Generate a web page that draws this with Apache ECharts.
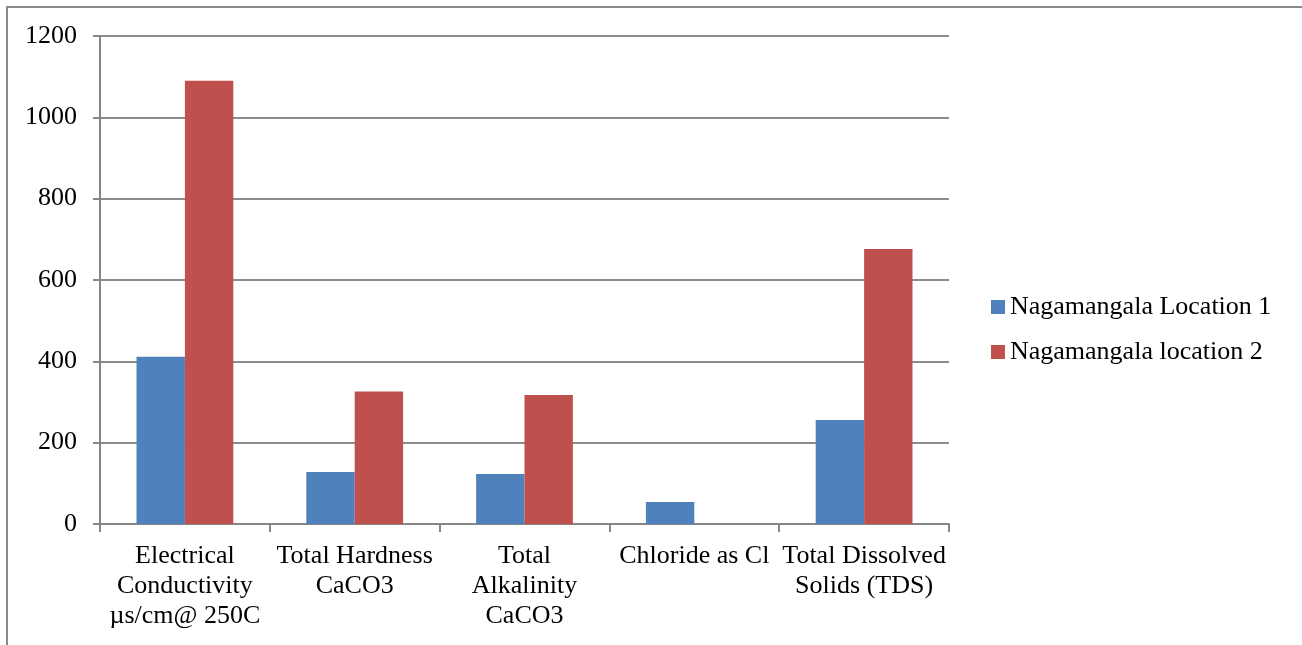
<!DOCTYPE html>
<html>
<head>
<meta charset="utf-8">
<script src="https://cdn.jsdelivr.net/npm/echarts@6/dist/echarts.min.js"></script>
<style>html,body{margin:0;padding:0;background:#fff}#c{width:1302px;height:645px}</style>
</head>
<body>
<div id="c"></div>
<script>
const categories = [
  "Electrical\nConductivity\nµs/cm@ 250C",
  "Total Hardness\nCaCO3",
  "Total\nAlkalinity\nCaCO3",
  "Chloride as Cl",
  "Total Dissolved\nSolids (TDS)"
];
const seriesNames = ["Nagamangala Location 1", "Nagamangala location 2"];
const location1 = [411, 128, 123, 54, 256];
const location2 = [1090, 326, 317, 0, 676];
const yTicks = { min: 0, max: 1200, interval: 200 };

const font = '"Liberation Serif", "Times New Roman", serif';
const chart = echarts.init(document.getElementById('c'), null, {renderer: 'canvas'});
chart.setOption({
  animation: false,
  backgroundColor: '#ffffff',
  color: ['#4F81BD', '#C0504D'],
  graphic: [{
    type: 'rect',
    shape: {x: 7, y: 7, width: 1400, height: 700},
    style: {fill: 'none', stroke: '#8a8a8a', lineWidth: 2},
    silent: true
  }],
  grid: {left: 100, right: 353, top: 36, bottom: 121, containLabel: false},
  legend: {
    orient: 'vertical',
    left: 991,
    top: 292,
    padding: 0,
    itemWidth: 14,
    itemHeight: 14,
    itemGap: 15,
    icon: 'rect',
    textStyle: {fontFamily: font, fontSize: 26, color: '#000', lineHeight: 30},
    data: seriesNames
  },
  xAxis: {
    type: 'category',
    data: categories,
    axisLine: {lineStyle: {color: '#868686', width: 2}},
    axisTick: {show: true, length: 8, lineStyle: {color: '#868686', width: 2}},
    axisLabel: {interval: 0, margin: 17, fontFamily: font, fontSize: 26, lineHeight: 30, color: '#000', align: 'center'}
  },
  yAxis: {
    type: 'value',
    min: yTicks.min, max: yTicks.max, interval: yTicks.interval,
    axisLine: {show: true, lineStyle: {color: '#868686', width: 2}},
    axisTick: {show: true, length: 7, lineStyle: {color: '#868686', width: 2}},
    splitLine: {show: true, lineStyle: {color: '#8c8c8c', width: 2}},
    axisLabel: {margin: 23, fontFamily: font, fontSize: 26, color: '#000', formatter: v => String(v)}
  },
  series: [
    {name: seriesNames[0], type: 'bar', data: location1, barGap: '0%', barCategoryGap: '43%',
     itemStyle: {color: '#4F81BD'}},
    {name: seriesNames[1], type: 'bar', data: location2, barGap: '0%', barCategoryGap: '43%',
     itemStyle: {color: '#C0504D'}}
  ]
});
</script>
</body>
</html>
